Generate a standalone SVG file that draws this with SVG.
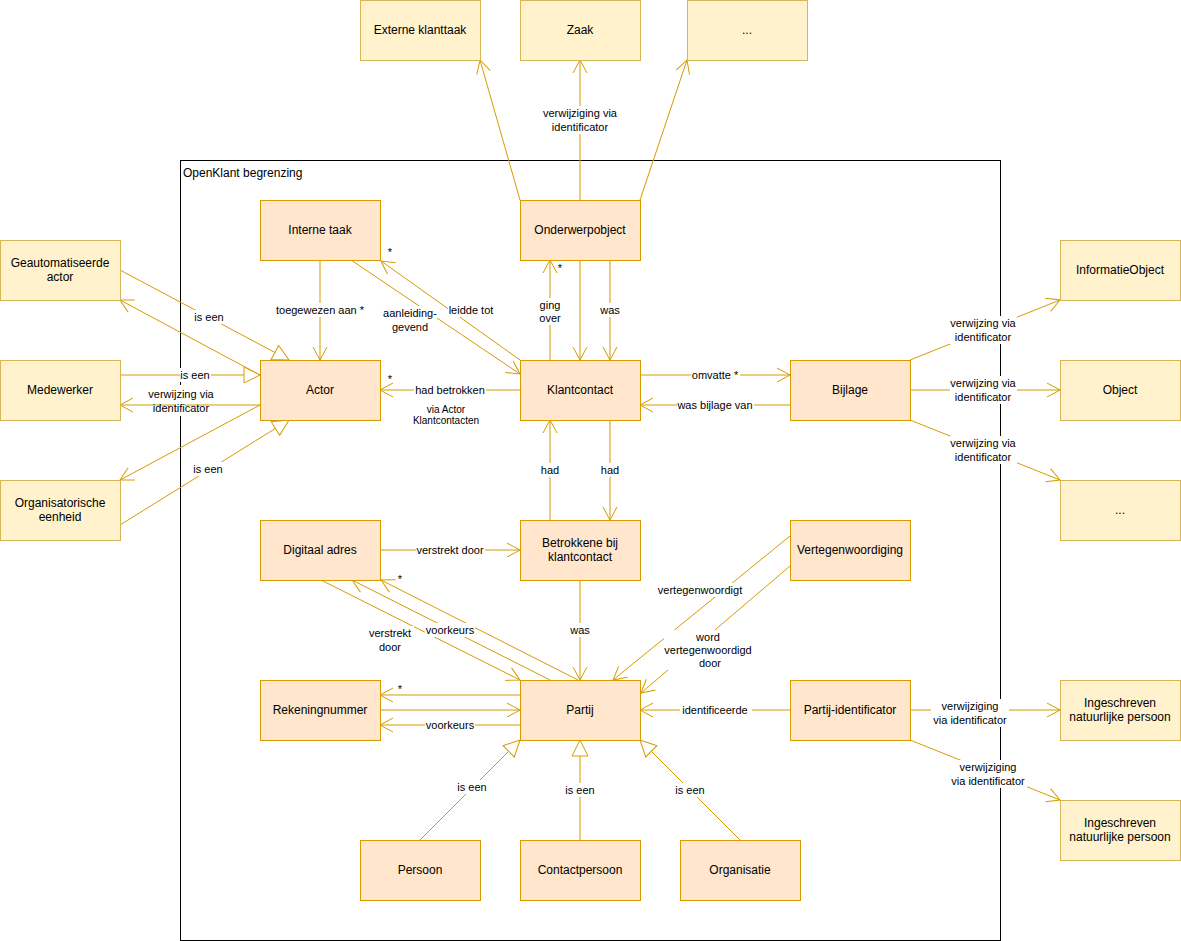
<svg xmlns="http://www.w3.org/2000/svg" width="1181" height="941" viewBox="0 0 1181 941">
<style>
.o{fill:#ffe6cc;stroke:#d79b00;stroke-width:1}
.y{fill:#fff2cc;stroke:#d6b656;stroke-width:1}
.nt{font-family:"Liberation Sans",Arial,sans-serif;font-size:12px;fill:#000;text-anchor:middle}
.lt{font-family:"Liberation Sans",Arial,sans-serif;font-size:11px;fill:#000;text-anchor:middle}
.st{font-family:"Liberation Sans",Arial,sans-serif;font-size:10px;fill:#000;text-anchor:middle}
.e{fill:none;stroke:#d79b00;stroke-width:1}
.a{marker-end:url(#open)}
.t{marker-end:url(#tri)}
.bg{fill:#fff}
</style>
<defs>
<marker id="open" markerUnits="userSpaceOnUse" markerWidth="16" markerHeight="16" viewBox="0 0 16 16" refX="14" refY="8" orient="auto"><path d="M1,1 L14,8 L1,15" fill="none" stroke="#d79b00" stroke-width="1"/></marker>
<marker id="tri" markerUnits="userSpaceOnUse" markerWidth="20" markerHeight="20" viewBox="0 0 20 20" refX="17" refY="10" orient="auto"><path d="M1,2 L17,10 L1,18 Z" fill="#fff" stroke="#d79b00" stroke-width="1"/></marker>
</defs>
<rect width="1181" height="941" fill="#fff"/>
<g id="boundary">
<rect x="180.5" y="160.5" width="820" height="780" fill="none" stroke="#000" stroke-width="1"/>
<text x="183" y="177" font-family="Liberation Sans, Arial, sans-serif" font-size="12px">OpenKlant begrenzing</text>
</g>
<g id="connectors">
<path class="e a" d="M320,260 L320,360"/>
<path class="e a" d="M351,260 L520,374"/>
<path class="e a" d="M520,360 L381,261"/>
<path class="e a" d="M550,360 L550,260"/>
<path class="e a" d="M580,260 L580,360"/>
<path class="e a" d="M610,260 L610,360"/>
<path class="e a" d="M520,200 L480,60"/>
<path class="e a" d="M580,200 L580,60"/>
<path class="e a" d="M640,200 L687,60"/>
<path class="e t" d="M120,270 L289,360"/>
<path class="e a" d="M260,375 L120,300"/>
<path class="e t" d="M120,375 L260,375"/>
<path class="e a" d="M260,405 L120,405"/>
<path class="e a" d="M260,405 L120,480"/>
<path class="e t" d="M120,525 L289,420"/>
<path class="e a" d="M520,390 L380,390"/>
<path class="e a" d="M640,375 L790,375"/>
<path class="e a" d="M790,405 L640,405"/>
<path class="e a" d="M910,360 L1060,300"/>
<path class="e a" d="M910,390 L1060,390"/>
<path class="e a" d="M910,420 L1060,480"/>
<path class="e a" d="M550,520 L550,420"/>
<path class="e a" d="M610,420 L610,520"/>
<path class="e a" d="M380,550 L520,550"/>
<path class="e a" d="M580,580 L580,680"/>
<path class="e a" d="M321,580 L520,680"/>
<path class="e a" d="M550,680 L352,580"/>
<path class="e a" d="M578,680 L381,580"/>
<path class="e a" d="M520,695 L380,695"/>
<path class="e a" d="M380,710 L520,710"/>
<path class="e a" d="M520,725 L380,725"/>
<path class="e a" d="M790,536 L613,680"/>
<path class="e a" d="M790,566 L641,693"/>
<path class="e a" d="M790,710 L640,710"/>
<path class="e a" d="M910,710 L1060,710"/>
<path class="e a" d="M910,740 L1060,800"/>
<path class="e t" d="M420,840 L520,740"/>
<path class="e t" d="M580,840 L580,740"/>
<path class="e t" d="M740,840 L640,740"/>
</g>
<g id="labels">
<rect class="bg" x="275" y="303" width="90" height="14"/><text class="lt" x="320" y="314">toegewezen aan *</text>
<rect class="bg" x="383" y="306" width="54" height="28"/><text class="lt" x="410" y="317">aanleiding-</text><text class="lt" x="410" y="331">gevend</text>
<rect class="bg" x="448" y="303" width="47" height="14"/><text class="lt" x="471" y="314">leidde tot</text>
<rect class="bg" x="538" y="298" width="24" height="27"/><text class="lt" x="550" y="309">ging</text><text class="lt" x="550" y="322">over</text>
<rect class="bg" x="599" y="303" width="22" height="14"/><text class="lt" x="610" y="314">was</text>
<rect class="bg" x="542" y="106" width="76" height="28"/><text class="lt" x="580" y="117">verwijziging via</text><text class="lt" x="580" y="131">identificator</text>
<rect class="bg" x="194" y="310" width="31" height="14"/><text class="lt" x="209" y="321">is een</text>
<rect class="bg" x="180" y="368" width="31" height="14"/><text class="lt" x="195" y="379">is een</text>
<rect class="bg" x="176" y="385" width="8" height="31"/><text class="lt" x="181" y="398">verwijzing via</text><text class="lt" x="181" y="412">identificator</text>
<rect class="bg" x="193" y="462" width="31" height="14"/><text class="lt" x="208" y="473">is een</text>
<rect class="bg" x="414" y="383" width="72" height="14"/><text class="lt" x="450" y="394">had betrokken</text>
<text class="st" x="446" y="413">via Actor</text><text class="st" x="446" y="424">Klantcontacten</text>
<text class="lt" x="390" y="256">*</text>
<text class="lt" x="560" y="272">*</text>
<text class="lt" x="390" y="383">*</text>
<rect class="bg" x="691" y="368" width="49" height="14"/><text class="lt" x="715" y="379">omvatte *</text>
<rect class="bg" x="677" y="398" width="77" height="14"/><text class="lt" x="715" y="409">was bijlage van</text>
<rect class="bg" x="950" y="316" width="67" height="28"/><text class="lt" x="983" y="327">verwijzing via</text><text class="lt" x="983" y="341">identificator</text>
<rect class="bg" x="950" y="376" width="67" height="28"/><text class="lt" x="983" y="387">verwijzing via</text><text class="lt" x="983" y="401">identificator</text>
<rect class="bg" x="950" y="436" width="67" height="28"/><text class="lt" x="983" y="447">verwijzing via</text><text class="lt" x="983" y="461">identificator</text>
<rect class="bg" x="540" y="463" width="20" height="14"/><text class="lt" x="550" y="474">had</text>
<rect class="bg" x="600" y="463" width="20" height="14"/><text class="lt" x="610" y="474">had</text>
<rect class="bg" x="416" y="543" width="69" height="14"/><text class="lt" x="450" y="554">verstrekt door</text>
<rect class="bg" x="569" y="623" width="22" height="14"/><text class="lt" x="580" y="634">was</text>
<rect class="bg" x="366" y="626" width="48" height="28"/><text class="lt" x="390" y="637">verstrekt</text><text class="lt" x="390" y="651">door</text>
<rect class="bg" x="425" y="623" width="50" height="14"/><text class="lt" x="450" y="634">voorkeurs</text>
<text class="lt" x="400" y="583">*</text>
<text class="lt" x="400" y="693">*</text>
<rect class="bg" x="425" y="718" width="50" height="14"/><text class="lt" x="450" y="729">voorkeurs</text>
<rect class="bg" x="657" y="583" width="86" height="14"/><text class="lt" x="700" y="594">vertegenwoordigt</text>
<rect class="bg" x="664" y="630" width="89" height="40"/><text class="lt" x="708" y="641">word</text><text class="lt" x="708" y="654">vertegenwoordigd</text><text class="lt" x="710" y="667">door</text>
<rect class="bg" x="680" y="703" width="72" height="14"/><text class="lt" x="715" y="714">identificeerde</text>
<rect class="bg" x="931" y="699" width="78" height="28"/><text class="lt" x="970" y="710">verwijziging</text><text class="lt" x="970" y="724">via identificator</text>
<rect class="bg" x="949" y="760" width="78" height="28"/><text class="lt" x="988" y="771">verwijziging</text><text class="lt" x="988" y="785">via identificator</text>
<rect class="bg" x="457" y="780" width="31" height="14"/><text class="lt" x="472" y="791">is een</text>
<rect class="bg" x="565" y="783" width="31" height="14"/><text class="lt" x="580" y="794">is een</text>
<rect class="bg" x="675" y="783" width="31" height="14"/><text class="lt" x="690" y="794">is een</text>
</g>
<g id="n-externe"><rect class="y" x="360.5" y="0.5" width="120" height="60"/><text class="nt" x="420" y="34">Externe klanttaak</text></g>
<g id="n-zaak"><rect class="y" x="520.5" y="0.5" width="120" height="60"/><text class="nt" x="580" y="34">Zaak</text></g>
<g id="n-dots-top"><rect class="y" x="687.5" y="0.5" width="120" height="60"/><text class="nt" x="747" y="34">...</text></g>
<g id="n-interne"><rect class="o" x="260.5" y="200.5" width="120" height="60"/><text class="nt" x="320" y="234">Interne taak</text></g>
<g id="n-onderwerp"><rect class="o" x="520.5" y="200.5" width="120" height="60"/><text class="nt" x="580" y="234">Onderwerpobject</text></g>
<g id="n-geautomatiseerde"><rect class="y" x="0.5" y="240.5" width="120" height="60"/><text class="nt" x="60" y="267">Geautomatiseerde</text><text class="nt" x="60" y="281">actor</text></g>
<g id="n-medewerker"><rect class="y" x="0.5" y="360.5" width="120" height="60"/><text class="nt" x="60" y="394">Medewerker</text></g>
<g id="n-organisatorisch"><rect class="y" x="0.5" y="480.5" width="120" height="60"/><text class="nt" x="60" y="507">Organisatorische</text><text class="nt" x="60" y="521">eenheid</text></g>
<g id="n-actor"><rect class="o" x="260.5" y="360.5" width="120" height="60"/><text class="nt" x="320" y="394">Actor</text></g>
<g id="n-klantcontact"><rect class="o" x="520.5" y="360.5" width="120" height="60"/><text class="nt" x="580" y="394">Klantcontact</text></g>
<g id="n-bijlage"><rect class="o" x="790.5" y="360.5" width="120" height="60"/><text class="nt" x="850" y="394">Bijlage</text></g>
<g id="n-informatieobject"><rect class="y" x="1060.5" y="240.5" width="120" height="60"/><text class="nt" x="1120" y="274">InformatieObject</text></g>
<g id="n-object"><rect class="y" x="1060.5" y="360.5" width="120" height="60"/><text class="nt" x="1120" y="394">Object</text></g>
<g id="n-dots-right"><rect class="y" x="1060.5" y="480.5" width="120" height="60"/><text class="nt" x="1120" y="514">...</text></g>
<g id="n-digitaal"><rect class="o" x="260.5" y="520.5" width="120" height="60"/><text class="nt" x="320" y="554">Digitaal adres</text></g>
<g id="n-betrokkene"><rect class="o" x="520.5" y="520.5" width="120" height="60"/><text class="nt" x="580" y="547">Betrokkene bij</text><text class="nt" x="580" y="561">klantcontact</text></g>
<g id="n-vertegenwoordiging"><rect class="o" x="790.5" y="520.5" width="120" height="60"/><text class="nt" x="850" y="554">Vertegenwoordiging</text></g>
<g id="n-rekeningnummer"><rect class="o" x="260.5" y="680.5" width="120" height="60"/><text class="nt" x="320" y="714">Rekeningnummer</text></g>
<g id="n-partij"><rect class="o" x="520.5" y="680.5" width="120" height="60"/><text class="nt" x="580" y="714">Partij</text></g>
<g id="n-partij-identificator"><rect class="o" x="790.5" y="680.5" width="120" height="60"/><text class="nt" x="850" y="714">Partij-identificator</text></g>
<g id="n-inp1"><rect class="y" x="1060.5" y="680.5" width="120" height="60"/><text class="nt" x="1120" y="707">Ingeschreven</text><text class="nt" x="1120" y="721">natuurlijke persoon</text></g>
<g id="n-inp2"><rect class="y" x="1060.5" y="800.5" width="120" height="60"/><text class="nt" x="1120" y="827">Ingeschreven</text><text class="nt" x="1120" y="841">natuurlijke persoon</text></g>
<g id="n-persoon"><rect class="o" x="360.5" y="840.5" width="120" height="60"/><text class="nt" x="420" y="874">Persoon</text></g>
<g id="n-contactpersoon"><rect class="o" x="520.5" y="840.5" width="120" height="60"/><text class="nt" x="580" y="874">Contactpersoon</text></g>
<g id="n-organisatie"><rect class="o" x="680.5" y="840.5" width="120" height="60"/><text class="nt" x="740" y="874">Organisatie</text></g>
</svg>
